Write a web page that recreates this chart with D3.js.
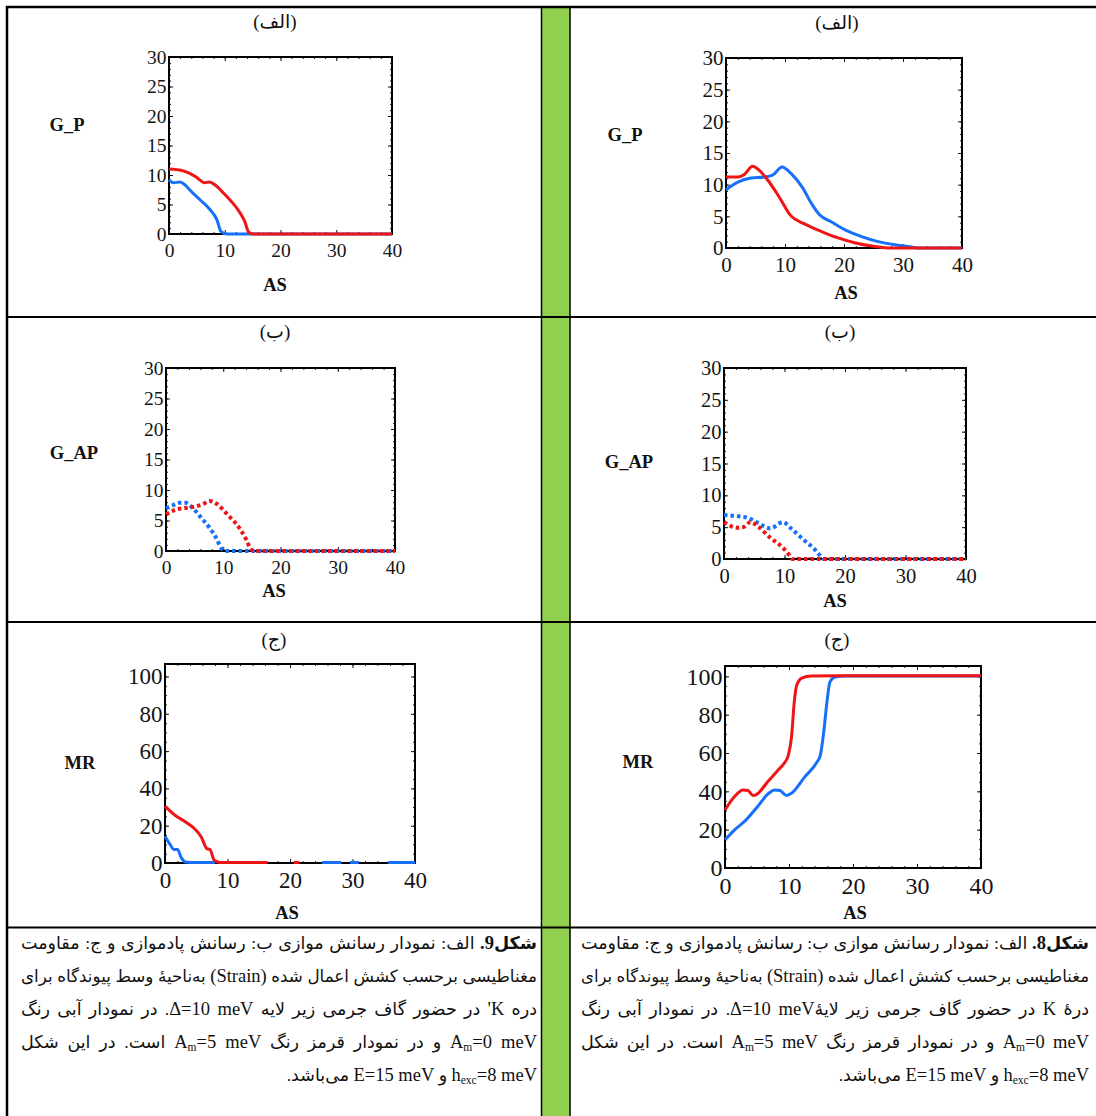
<!DOCTYPE html>
<html>
<head>
<meta charset="utf-8">
<script src="https://cdn.jsdelivr.net/npm/d3@7"></script>
<style>
  body { margin: 0; background: #fff; }
  #page { position: relative; width: 1096px; height: 1116px; overflow: hidden; background: #fff; }
  #page svg { position: absolute; left: 0; top: 0; }
  .cap { position: absolute; direction: rtl; unicode-bidi: embed; white-space: nowrap;
         font-family: "Liberation Serif", "DejaVu Sans", serif; font-size: 17.5px; line-height: 20px; color: #111; }
  .cap .lt { font-size: 18.5px; }
  .cap sub { font-size: 11.5px; vertical-align: -3px; line-height: 0; }
  .tk text { font-family: "Liberation Serif", serif; }
</style>
</head>
<body>
<div id="page"></div>
<script>
// strain (AS) axis is the same in every panel
const asTicks = [0, 10, 20, 30, 40];
const gTicks = [0, 5, 10, 15, 20, 25, 30];
const mrTicks = [0, 20, 40, 60, 80, 100];
const panelTitles = ['(الف)', '(ب)', '(ج)'];

// fig 9 - K' valley (left column)
const fig9GpBlue = [[0,9.2],[0.75,8.7],[2.0,8.8],[2.6,8.5],[4.2,7.0],[5.8,5.6],[7.3,4.2],[8.6,2.4],[9.3,0.45],[10.1,0.05],[11,0],[40,0]];
const fig9GpRed = [[0,11.0],[2.3,10.75],[4.8,9.7],[6.4,8.7],[7.2,8.8],[8.0,8.5],[9.8,6.9],[11.1,5.6],[12.6,3.8],[13.6,2.1],[14.3,0.3],[15.1,0],[40,0]];
const fig9GapBlue = [[0,7.0],[1.2,7.5],[2.4,7.9],[3.4,7.9],[4.6,7.1],[6.1,5.5],[7.6,3.8],[8.9,1.9],[9.6,0.5],[10.4,0],[40,0]];
const fig9GapRed = [[0,6.0],[1.5,6.7],[3.7,7.1],[5.2,7.3],[6.7,7.8],[7.6,8.2],[8.9,7.7],[10.7,6.0],[12.8,3.8],[14.0,1.9],[14.7,0.5],[15.3,0],[40,0]];
const fig9MrBlue = [[0,14.3],[0.8,10.0],[1.45,7.2],[2.0,7.2],[2.6,2.9],[3.3,0.5],[4.1,0.3],[8,0.3], null,
  [25.1,0.3],[28.2,0.3], null, [29.6,0.3],[31,0.3], null, [35.7,0.3],[40,0.3]];
const fig9MrRed = [[0,30.5],[1.6,25.6],[3.3,22.0],[4.7,18.5],[5.8,14.0],[6.7,7.7],[7.2,7.2],[7.9,1.4],[8.9,0.3],[10,0.3],[16.4,0.3], null,
  [20.6,0.3],[21.5,0.3]];

// fig 8 - K valley (right column)
const fig8GpBlue = [[0,9.2],[2.0,10.4],[4.25,11.05],[6.5,11.2],[7.9,11.5],[9.5,12.8],[11.1,11.7],[13.0,9.5],[14.5,7.0],[15.9,5.2],[17.9,4.1],[20.1,2.9],[23.0,1.8],[25.8,1.0],[28.6,0.5],[31.5,0.16],[32.3,0],[40,0]];
const fig8GpRed = [[0,11.2],[2.0,11.2],[3.1,11.6],[4.5,12.9],[5.7,12.2],[7.1,10.7],[8.5,8.8],[9.5,7.3],[10.8,5.3],[13.3,3.8],[16.2,2.6],[19.0,1.6],[21.8,0.84],[24.7,0.3],[26.9,0.05],[28,0],[40,0]];
const fig8GapBlue = [[0,6.9],[2.4,6.7],[4.1,6.4],[5.75,5.6],[7.7,4.8],[9.7,5.8],[11.3,4.6],[13.3,2.9],[15.0,1.5],[15.8,0.6],[16.5,0],[40,0]];
const fig8GapRed = [[0,5.8],[1.3,5.1],[2.4,4.9],[3.2,5.0],[4.4,5.8],[5.75,5.0],[7.7,3.3],[9.7,1.8],[10.8,0.6],[11.3,0],[40,0]];
const fig8MrBlue = [[0,14.7],[1.5,19.9],[3.3,25.1],[5.1,32.1],[6.7,38.6],[7.8,40.7],[8.6,40.4],[9.6,37.8],[10.4,39.0],[12.5,47.7],[14.3,54.9],[14.9,58.9],[15.4,70.2],[15.9,85.8],[16.4,97.1],[17.2,99.7],[18.8,100.2],[40,100.2]];
const fig8MrRed = [[0,30.3],[1.5,37.3],[2.8,40.7],[3.6,40.4],[4.4,37.8],[4.9,38.3],[6.7,45.1],[8.3,51.1],[9.3,54.9],[9.9,58.9],[10.4,68.5],[10.8,85.8],[11.2,95.3],[12.0,99.1],[13.5,100.2],[17.7,100.3],[40,100.3]];

// caption lines, right to left; <span class=lt> marks latin runs
const captionFig9 = [
  '<b>شکل<span class="lt">9.</span></b> الف: نمودار رسانش موازی ب: رسانش پادموازی و ج: مقاومت',
  'مغناطیسی برحسب کشش اعمال شده <span class="lt">(Strain)</span> به‌ناحیهٔ وسط پیوندگاه برای',
  'دره <span class="lt">K\'</span> در حضور گاف جرمی زیر لایه <span class="lt">Δ=10 meV</span>. در نمودار آبی رنگ',
  '<span class="lt">A<sub>m</sub>=0 meV</span> و در نمودار قرمز رنگ <span class="lt">A<sub>m</sub>=5 meV</span> است. در این شکل',
  '<span class="lt">h<sub>exc</sub>=8 meV</span> و <span class="lt">E=15 meV</span> می‌باشد.'
];
const captionFig8 = [
  '<b>شکل<span class="lt">8.</span></b> الف: نمودار رسانش موازی ب: رسانش پادموازی و ج: مقاومت',
  'مغناطیسی برحسب کشش اعمال شده <span class="lt">(Strain)</span> به‌ناحیهٔ وسط پیوندگاه برای',
  'درهٔ <span class="lt">K</span> در حضور گاف جرمی زیر لایهٔ<span class="lt">Δ=10 meV</span>. در نمودار آبی رنگ',
  '<span class="lt">A<sub>m</sub>=0 meV</span> و در نمودار قرمز رنگ <span class="lt">A<sub>m</sub>=5 meV</span> است. در این شکل',
  '<span class="lt">h<sub>exc</sub>=8 meV</span> و <span class="lt">E=15 meV</span> می‌باشد.'
];

const RED = '#f01414';
const BLUE = '#1670f8';

const page = d3.select('#page');
const svg = page.append('svg').attr('width', 1096).attr('height', 1116);

// table: green divider column and rules
svg.append('rect').attr('x', 541.5).attr('y', 7).attr('width', 28.5).attr('height', 1109).attr('fill', '#92d050');
const rule = (x1, y1, x2, y2, w) => svg.append('line')
  .attr('x1', x1).attr('y1', y1).attr('x2', x2).attr('y2', y2)
  .attr('stroke', '#000').attr('stroke-width', w);
rule(6, 7, 1096, 7, 2.5);
rule(6, 317, 1096, 317, 2.2);
rule(6, 622, 1096, 622, 2.2);
rule(6, 927.5, 1096, 927.5, 2.2);
rule(7, 6, 7, 1116, 2.5);
rule(541.5, 7, 541.5, 1116, 1.5);
rule(570, 7, 570, 1116, 1.5);

const panels = [
  { x0: 169, x1: 392, y0: 57, y1: 234, ymax: 30, ticks: gTicks, minor: 1, fs: 19.5, title: 0, tx: 275, ty: 28,
    ylab: 'G_P', lx: 67, ly: 131, ax: 275, ay: 291,
    series: [{ d: fig9GpBlue, c: BLUE }, { d: fig9GpRed, c: RED }] },
  { x0: 726, x1: 962, y0: 58, y1: 248, ymax: 30, ticks: gTicks, minor: 1, fs: 21, title: 0, tx: 837, ty: 29,
    ylab: 'G_P', lx: 625, ly: 141, ax: 846, ay: 299,
    series: [{ d: fig8GpBlue, c: BLUE }, { d: fig8GpRed, c: RED }] },
  { x0: 166, x1: 395, y0: 368, y1: 551, ymax: 30, ticks: gTicks, minor: 1, fs: 19.5, title: 1, tx: 275, ty: 338,
    ylab: 'G_AP', lx: 74, ly: 459, ax: 274, ay: 597,
    series: [{ d: fig9GapBlue, c: BLUE, dot: true }, { d: fig9GapRed, c: RED, dot: true }] },
  { x0: 724, x1: 966, y0: 368, y1: 559, ymax: 30, ticks: gTicks, minor: 1, fs: 20.5, title: 1, tx: 840, ty: 338,
    ylab: 'G_AP', lx: 629, ly: 468, ax: 835, ay: 607,
    series: [{ d: fig8GapBlue, c: BLUE, dot: true }, { d: fig8GapRed, c: RED, dot: true }] },
  { x0: 165, x1: 415, y0: 664, y1: 863, ymax: 106.7, ticks: mrTicks, minor: 5, fs: 23, title: 2, tx: 274, ty: 646,
    ylab: 'MR', lx: 80, ly: 769, ax: 287, ay: 919,
    series: [{ d: fig9MrBlue, c: BLUE }, { d: fig9MrRed, c: RED }] },
  { x0: 725, x1: 981, y0: 666, y1: 868, ymax: 105.4, ticks: mrTicks, minor: 5, fs: 24, title: 2, tx: 837, ty: 646,
    ylab: 'MR', lx: 638, ly: 768, ax: 855, ay: 919,
    series: [{ d: fig8MrBlue, c: BLUE }, { d: fig8MrRed, c: RED }] }
];

function drawPanel(p) {
  const x = d3.scaleLinear().domain([0, 40]).range([p.x0, p.x1]);
  const y = d3.scaleLinear().domain([0, p.ymax]).range([p.y1, p.y0]);
  const g = svg.append('g');
  const xMinor = d3.range(0, 40.01, 2);
  const yMinor = d3.range(0, d3.max(p.ticks) + 0.01, p.minor);

  const axes = [
    [d3.axisBottom(x).tickValues(xMinor).tickSize(-2).tickFormat(''), 0, p.y1],
    [d3.axisTop(x).tickValues(xMinor).tickSize(-2).tickFormat(''), 0, p.y0],
    [d3.axisLeft(y).tickValues(yMinor).tickSize(-2).tickFormat(''), p.x0, 0],
    [d3.axisRight(y).tickValues(yMinor).tickSize(-2).tickFormat(''), p.x1, 0],
    [d3.axisTop(x).tickValues(asTicks).tickSize(-4).tickFormat(''), 0, p.y0],
    [d3.axisRight(y).tickValues(p.ticks).tickSize(-4).tickFormat(''), p.x1, 0],
    [d3.axisBottom(x).tickValues(asTicks).tickSize(-4).tickPadding(9).tickFormat(d3.format('d')), 0, p.y1],
    [d3.axisLeft(y).tickValues(p.ticks).tickSize(-4).tickPadding(2.5).tickFormat(d3.format('d')), p.x0, 0]
  ];
  axes.forEach(([ax, tx, ty]) => {
    const a = g.append('g').attr('class', 'tk').attr('transform', `translate(${tx},${ty})`).call(ax);
    a.select('.domain').remove();
    a.attr('font-size', null).attr('font-family', null).attr('color', '#141414');
    a.selectAll('text').style('font-size', p.fs + 'px');
    a.selectAll('line').attr('stroke-width', 1);
  });

  g.append('rect')
    .attr('x', p.x0).attr('y', p.y0).attr('width', p.x1 - p.x0).attr('height', p.y1 - p.y0)
    .attr('fill', 'none').attr('stroke', '#000').attr('stroke-width', 2);

  const line = d3.line().defined(d => d !== null)
    .x(d => x(d[0])).y(d => y(d[1])).curve(d3.curveMonotoneX);
  p.series.forEach(s => {
    g.append('path')
      .attr('d', line(s.d))
      .attr('fill', 'none')
      .attr('stroke', s.c)
      .attr('stroke-width', s.dot ? 4 : 3)
      .attr('stroke-dasharray', s.dot ? '3.5 3' : null)
      .attr('stroke-linejoin', 'round');
  });

  g.append('text').attr('x', p.tx).attr('y', p.ty)
    .attr('text-anchor', 'middle').attr('direction', 'rtl')
    .style('font-family', '"Liberation Serif", "DejaVu Sans", serif').style('font-size', '19px')
    .attr('fill', '#111').text(panelTitles[p.title]);
  g.append('text').attr('x', p.lx).attr('y', p.ly)
    .attr('text-anchor', 'middle').style('font-family', '"Liberation Serif", serif')
    .attr('font-weight', 'bold').style('font-size', '18.5px').attr('fill', '#111').text(p.ylab);
  g.append('text').attr('x', p.ax).attr('y', p.ay)
    .attr('text-anchor', 'middle').style('font-family', '"Liberation Serif", serif')
    .attr('font-weight', 'bold').style('font-size', '18.5px').attr('fill', '#111').text('AS');
}

panels.forEach(drawPanel);

// captions: justified right-to-left lines, last line ragged;
// only the persian runs shrink when a line is too long
const capSize = 17.5;
const baselines = [948, 981, 1014, 1047, 1080];
function drawCaption(lines, right, width) {
  lines.forEach((html, i) => {
    const div = page.append('div').attr('class', 'cap')
      .style('right', (1096 - right) + 'px')
      .style('top', (baselines[i] - 15) + 'px');
    const span = div.append('span').html(html);
    if (i < lines.length - 1) {
      let w = span.node().getBoundingClientRect().width;
      let fs = capSize;
      while (w > width && fs > 12) {
        fs -= 0.25;
        span.style('font-size', fs + 'px');
        w = span.node().getBoundingClientRect().width;
      }
      const gaps = (span.node().textContent.match(/ /g) || []).length;
      if (gaps > 0) span.style('word-spacing', ((width - w) / gaps) + 'px');
    }
  });
}
drawCaption(captionFig9, 537, 516);
drawCaption(captionFig8, 1089, 508);
</script>
</body>
</html>
